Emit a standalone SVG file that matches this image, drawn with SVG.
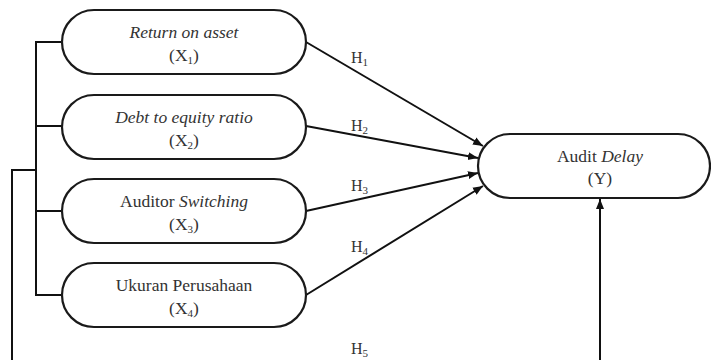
<svg xmlns="http://www.w3.org/2000/svg" width="711" height="360" viewBox="0 0 711 360">
<style>
.node{fill:#fff;stroke:#1a1a1a;stroke-width:2.2}
.t{font-family:"Liberation Serif","Times New Roman",serif;font-size:17.5px;fill:#333;text-anchor:middle}
.h{font-family:"Liberation Serif","Times New Roman",serif;font-size:16px;fill:#333}
.i{font-style:italic}
.sub{font-size:11px}
.c{fill:none;stroke:#111;stroke-width:2}
</style>
<defs>
<marker id="ah" viewBox="0 0 10 10" refX="10" refY="5" markerWidth="5" markerHeight="5" orient="auto" markerUnits="strokeWidth">
<path d="M0,1 L10,5 L0,9 z" fill="#111"/>
</marker>
</defs>
<g id="connectors">
<path class="c" d="M62,42 H36 V295 H62 M36,126 H62 M36,211 H62"/>
<path class="c" d="M36,170 H12 V360"/>
<line class="c" x1="306" y1="42" x2="483" y2="146" marker-end="url(#ah)"/>
<line class="c" x1="306" y1="126" x2="478" y2="158" marker-end="url(#ah)"/>
<line class="c" x1="306" y1="211" x2="478" y2="173" marker-end="url(#ah)"/>
<line class="c" x1="306" y1="295" x2="483" y2="186" marker-end="url(#ah)"/>
<line class="c" x1="600" y1="360" x2="600" y2="199" marker-end="url(#ah)"/>
<text class="h" x="351" y="63">H<tspan class="sub" dy="3">1</tspan></text>
<text class="h" x="351" y="131">H<tspan class="sub" dy="3">2</tspan></text>
<text class="h" x="351" y="191">H<tspan class="sub" dy="3">3</tspan></text>
<text class="h" x="351" y="252">H<tspan class="sub" dy="3">4</tspan></text>
<text class="h" x="351" y="354">H<tspan class="sub" dy="3">5</tspan></text>
</g>
<g id="x1">
<rect class="node" x="62" y="10" width="244" height="64" rx="32"/>
<text class="t i" x="184" y="38">Return on asset</text>
<text class="t" x="184" y="61">(X<tspan class="sub" dy="3">1</tspan><tspan dy="-3">)</tspan></text>
</g>
<g id="x2">
<rect class="node" x="62" y="95" width="244" height="64" rx="32"/>
<text class="t i" x="184" y="123">Debt to equity ratio</text>
<text class="t" x="184" y="146">(X<tspan class="sub" dy="3">2</tspan><tspan dy="-3">)</tspan></text>
</g>
<g id="x3">
<rect class="node" x="62" y="179" width="244" height="64" rx="32"/>
<text class="t" x="184" y="207">Auditor <tspan class="i">Switching</tspan></text>
<text class="t" x="184" y="230">(X<tspan class="sub" dy="3">3</tspan><tspan dy="-3">)</tspan></text>
</g>
<g id="x4">
<rect class="node" x="62" y="263" width="244" height="64" rx="32"/>
<text class="t" x="184" y="291">Ukuran Perusahaan</text>
<text class="t" x="184" y="314">(X<tspan class="sub" dy="3">4</tspan><tspan dy="-3">)</tspan></text>
</g>
<g id="y">
<rect class="node" x="478" y="134" width="232" height="64" rx="32"/>
<text class="t" x="600" y="162">Audit <tspan class="i">Delay</tspan></text>
<text class="t" x="600" y="184">(Y)</text>
</g>
</svg>
